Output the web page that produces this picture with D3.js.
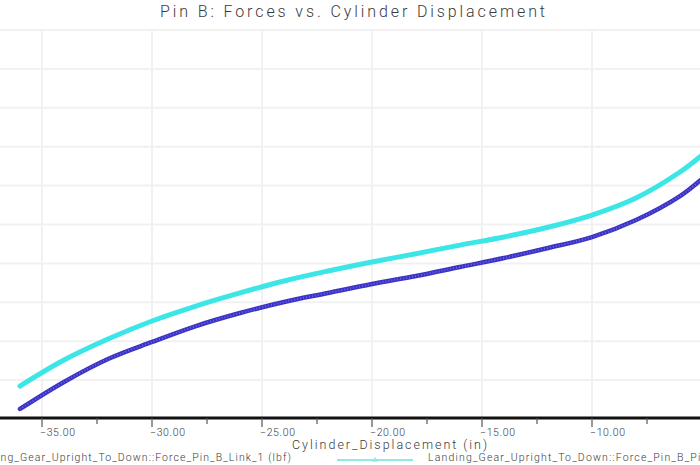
<!DOCTYPE html>
<html>
<head>
<meta charset="utf-8">
<script src="https://cdn.jsdelivr.net/npm/d3@7"></script>
<style>
  body { margin: 0; background: #fff; }
  svg { display: block; font-family: Roboto, 'DejaVu Sans', sans-serif; font-weight: 300; }
  .lbl { fill: #3a3a3a; }
</style>
</head>
<body>
<svg class="chart"></svg>
<script>
// Cylinder displacement (in) and pin forces (lbf)
const displacement = [-36, -34, -32, -30, -28, -26, -24, -22, -20, -18, -16, -14, -12, -10, -8, -6, -5, -4.5];
const pistonForce = [424, 758, 1028, 1260, 1452, 1620, 1774, 1902, 2018, 2125, 2235, 2340, 2465, 2622, 2841, 3175, 3393, 3522];
const linkForce = [129, 476, 771, 990, 1195, 1362, 1504, 1620, 1735, 1838, 1954, 2069, 2198, 2339, 2558, 2866, 3085, 3200];
const xTicks = [-35, -30, -25, -20, -15, -10, -5];
const xMinorTicks = [-37.5, -32.5, -27.5, -22.5, -17.5, -12.5, -7.5];
const yGrid = [500, 1000, 1500, 2000, 2500, 3000, 3500, 4000, 4500, 5000];

const title = 'Pin B: Forces vs. Cylinder Displacement';
const xTitle = 'Cylinder_Displacement (in)';
const legendLink = 'Landing_Gear_Upright_To_Down::Force_Pin_B_Link_1 (lbf)';
const legendPiston = 'Landing_Gear_Upright_To_Down::Force_Pin_B_Piston_1 (lbf)';

const width = 700, height = 465;
const axisY = 418;

const x = d3.scaleLinear().domain([-35, -10]).range([42, 592]);
const y = d3.scaleLinear().domain([0, 5000]).range([419, 30]);
const fmt = d3.format('.2f');

const svg = d3.select('svg.chart')
  .attr('width', width)
  .attr('height', height);

svg.append('rect').attr('width', width).attr('height', height).attr('fill', '#fff');

// grid
svg.append('g').selectAll('line').data(yGrid).enter().append('line')
  .attr('x1', 0).attr('x2', width)
  .attr('y1', d => y(d)).attr('y2', d => y(d))
  .attr('stroke', '#f1f1f1').attr('stroke-width', 2);

svg.append('g').selectAll('line').data(xTicks).enter().append('line')
  .attr('x1', d => x(d)).attr('x2', d => x(d))
  .attr('y1', y(5000)).attr('y2', axisY)
  .attr('stroke', '#f1f1f1').attr('stroke-width', 2);

// curves
const line = d3.line().curve(d3.curveCatmullRom.alpha(0.5));
svg.append('clipPath').attr('id', 'plot')
  .append('rect').attr('x', 0).attr('y', 0).attr('width', width).attr('height', axisY);

const plot = svg.append('g').attr('clip-path', 'url(#plot)');

plot.append('path')
  .attr('d', line(displacement.map((d, i) => [x(d), y(pistonForce[i])])))
  .attr('fill', 'none').attr('stroke', '#3de6e6')
  .attr('stroke-width', 5).attr('stroke-linecap', 'round');

const linkPts = displacement.map((d, i) => [x(d), y(linkForce[i])]);
plot.append('path')
  .attr('d', line(linkPts))
  .attr('fill', 'none').attr('stroke', '#3a32c4')
  .attr('stroke-width', 4.5).attr('stroke-linecap', 'round');
plot.append('path')
  .attr('d', line(linkPts))
  .attr('fill', 'none').attr('stroke', '#6d66e6')
  .attr('stroke-width', 2).attr('stroke-dasharray', '1,2');

// x axis
svg.append('line')
  .attr('x1', 0).attr('x2', width)
  .attr('y1', axisY).attr('y2', axisY)
  .attr('stroke', '#111').attr('stroke-width', 3);

svg.append('g').selectAll('line').data(xTicks).enter().append('line')
  .attr('x1', d => x(d)).attr('x2', d => x(d))
  .attr('y1', axisY).attr('y2', axisY + 9)
  .attr('stroke', '#555').attr('stroke-width', 1.2);

svg.append('g').selectAll('line').data(xMinorTicks).enter().append('line')
  .attr('x1', d => x(d)).attr('x2', d => x(d))
  .attr('y1', axisY).attr('y2', axisY + 6)
  .attr('stroke', '#555').attr('stroke-width', 1.2);

svg.append('g').selectAll('text').data(xTicks).enter().append('text')
  .attr('class', 'lbl')
  .attr('x', d => x(d) - 2).attr('y', 436)
  .attr('font-size', 10.5)
  .attr('textLength', 35).attr('lengthAdjust', 'spacing')
  .text(d => fmt(d));

svg.append('text').attr('class', 'lbl')
  .attr('x', 292).attr('y', 449)
  .attr('font-size', 12.5)
  .attr('textLength', 195).attr('lengthAdjust', 'spacing')
  .text(xTitle);

// title
svg.append('text').attr('class', 'lbl')
  .attr('x', 160).attr('y', 17)
  .attr('font-size', 16)
  .attr('textLength', 385).attr('lengthAdjust', 'spacing')
  .text(title);

// legend
svg.append('text').attr('class', 'lbl')
  .attr('x', -30).attr('y', 461)
  .attr('font-size', 10.5)
  .attr('textLength', 321).attr('lengthAdjust', 'spacing')
  .text(legendLink);

svg.append('line')
  .attr('x1', 337).attr('x2', 413).attr('y1', 460).attr('y2', 460)
  .attr('stroke', '#8eeaea').attr('stroke-width', 2);
svg.append('path')
  .attr('d', d3.symbol(d3.symbolTriangle, 14)())
  .attr('transform', 'translate(375,460)')
  .attr('fill', '#8eeaea');

svg.append('text').attr('class', 'lbl')
  .attr('x', 428).attr('y', 461)
  .attr('font-size', 10.5)
  .attr('textLength', 338).attr('lengthAdjust', 'spacing')
  .text(legendPiston);
</script>
</body>
</html>
